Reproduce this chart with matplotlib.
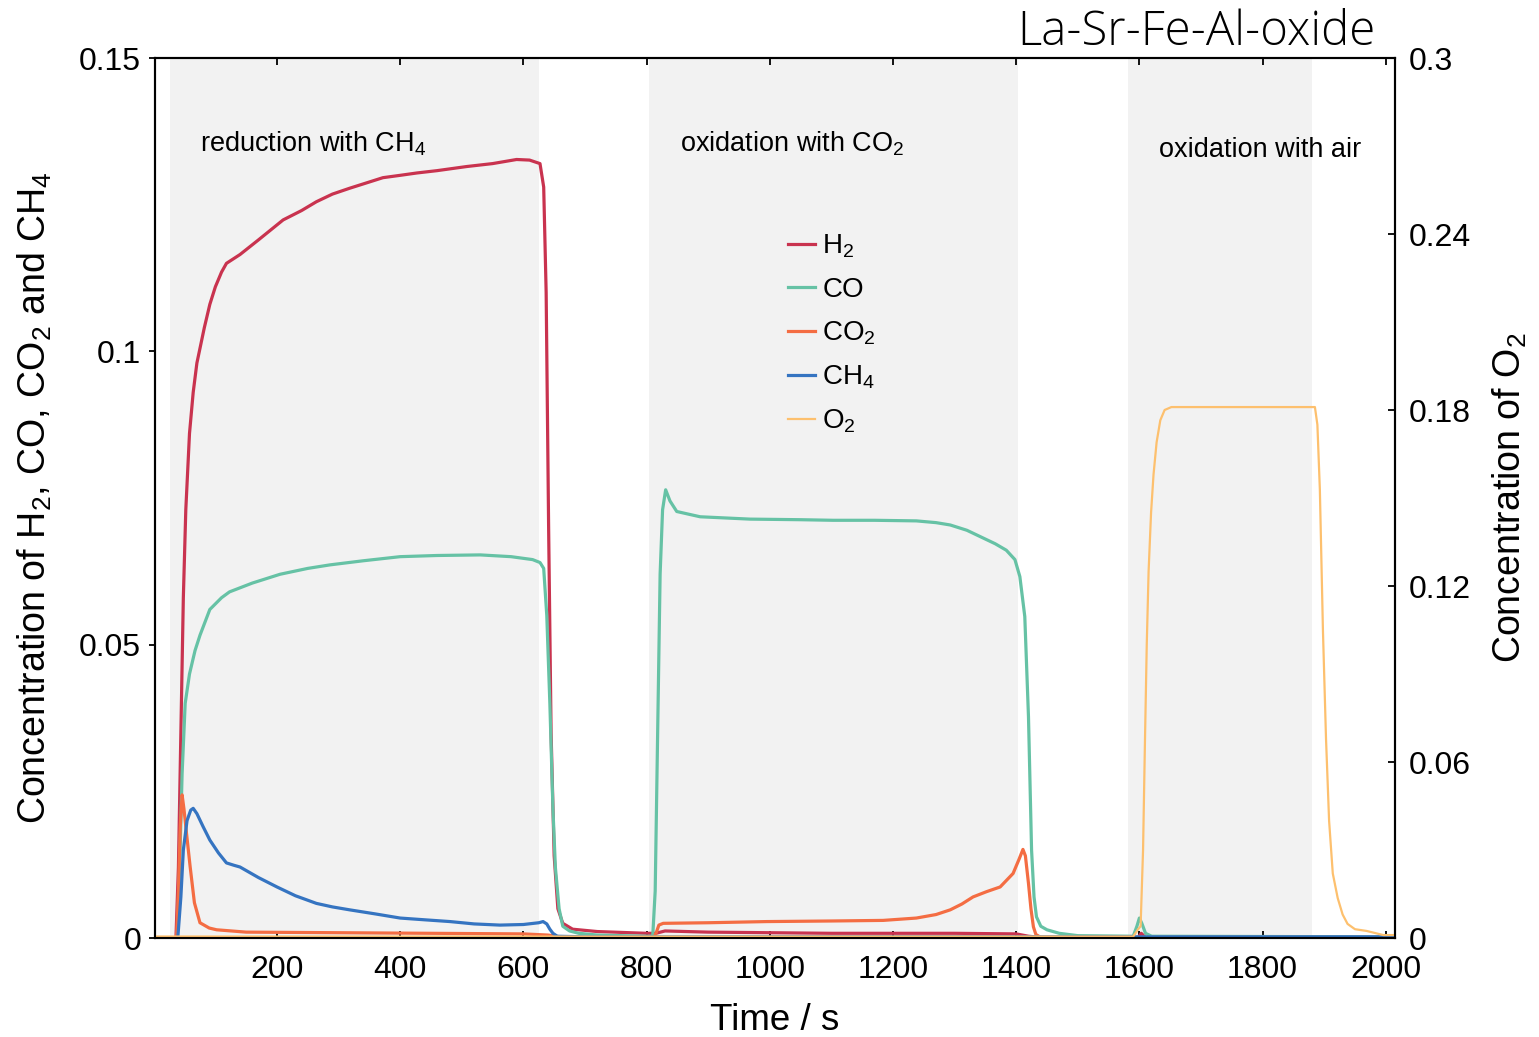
import matplotlib
matplotlib.use('Agg')
import numpy as np
import matplotlib.pyplot as plt
from matplotlib.ticker import FuncFormatter

plt.rcParams['font.family'] = ['Liberation Sans', 'DejaVu Sans']
plt.rcParams['mathtext.fontset'] = 'custom'
plt.rcParams['mathtext.rm'] = 'Liberation Sans'
plt.rcParams['mathtext.it'] = 'Liberation Sans'

# step windows (s)
steps = [(26, 625), (804, 1403), (1581, 1881)]
step_labels = ['reduction with CH$_4$', 'oxidation with CO$_2$', 'oxidation with air']
step_label_x = [75, 854, 1632]
step_label_y = [0.134, 0.134, 0.1332]

t_h2 = [0, 36, 40, 44, 48, 52, 58, 64, 70, 75, 82, 91, 100, 110, 118, 140, 170, 210,
        240, 264, 290, 318, 345, 372, 400, 427, 460, 508, 550, 589, 610, 627, 633, 637,
        641, 645, 650, 656, 664, 680, 720, 800, 815, 830, 900, 1100, 1300, 1400, 1420,
        1440, 1598, 1603, 1610, 2015]
h2 = [0, 0, 0.012, 0.035, 0.058, 0.073, 0.086, 0.093, 0.098, 0.1005, 0.104, 0.108, 0.111,
      0.1135, 0.115, 0.1165, 0.119, 0.1224, 0.124, 0.1255, 0.1268, 0.1278, 0.1287, 0.1296,
      0.1300, 0.1304, 0.1308, 0.1315, 0.1320, 0.1327, 0.1326, 0.1320, 0.128, 0.11, 0.07,
      0.035, 0.014, 0.005, 0.0025, 0.0015, 0.0011, 0.0008, 0.0008, 0.0012, 0.001, 0.0008,
      0.0008, 0.0007, 0.0003, 0.0001, 0.0001, 0.0008, 0.0001, 0.0001]

t_co = [0, 38, 42, 46, 51, 58, 67, 75, 91, 110, 123, 160, 205, 250, 286, 340, 400, 460,
        530, 580, 615, 627, 633, 638, 643, 648, 652, 658, 664, 675, 690, 720, 800, 810,
        814, 818, 822, 826, 831, 838, 849, 870, 887, 968, 1050, 1103, 1170, 1238, 1270,
        1293, 1320, 1346, 1366, 1384, 1398, 1406, 1414, 1420, 1425, 1429, 1433, 1440,
        1450, 1470, 1500, 1590, 1596, 1600, 1604, 1610, 1620, 2015]
co = [0, 0, 0.012, 0.028, 0.040, 0.045, 0.049, 0.0516, 0.056, 0.058, 0.059, 0.0605, 0.062,
      0.063, 0.0636, 0.0643, 0.065, 0.0652, 0.0653, 0.0650, 0.0645, 0.064, 0.063, 0.055,
      0.040, 0.022, 0.012, 0.005, 0.002, 0.0012, 0.0008, 0.0005, 0.0003, 0.0003, 0.008,
      0.035, 0.062, 0.073, 0.0764, 0.0745, 0.0727, 0.0722, 0.0718, 0.0714, 0.0713, 0.0712,
      0.0712, 0.0711, 0.0708, 0.0704, 0.0695, 0.0682, 0.0672, 0.0661, 0.0645, 0.0616,
      0.0548, 0.0377, 0.015, 0.007, 0.0036, 0.002, 0.0014, 0.0008, 0.0004, 0.0003, 0.002,
      0.0034, 0.0025, 0.0008, 0.0003, 0.0002]

t_co2 = [0, 37, 40, 43, 46, 49, 53, 59, 66, 75, 90, 102, 150, 300, 450, 600, 640, 660,
         700, 800, 812, 816, 820, 827, 900, 995, 1100, 1184, 1238, 1270, 1293, 1312, 1330,
         1352, 1374, 1395, 1405, 1411, 1415, 1420, 1424, 1428, 1432, 1440, 2015]
co2 = [0, 0, 0.008, 0.019, 0.0244, 0.022, 0.018, 0.0122, 0.006, 0.0026, 0.0017, 0.0014,
       0.001, 0.0009, 0.0008, 0.0007, 0.0005, 0.0002, 0.0001, 0.0001, 0.0001, 0.0010,
       0.0022, 0.0025, 0.0026, 0.0028, 0.0029, 0.0030, 0.0034, 0.0040, 0.0048, 0.0058,
       0.0070, 0.0079, 0.0087, 0.011, 0.0135, 0.0151, 0.0140, 0.0093, 0.0050, 0.0019,
       0.0006, 0.0001, 0.0001]

t_ch4 = [0, 39, 44, 48, 54, 60, 64, 70, 80, 91, 105, 118, 130, 140, 170, 200, 230, 264,
         290, 318, 360, 400, 440, 481, 520, 562, 600, 625, 632, 638, 643, 648, 655, 700,
         2015]
ch4 = [0, 0, 0.007, 0.015, 0.0200, 0.0218, 0.0221, 0.0212, 0.0190, 0.0167, 0.0145, 0.0128,
       0.0124, 0.0121, 0.0103, 0.0087, 0.0072, 0.0059, 0.0053, 0.0048, 0.0041, 0.0034,
       0.0031, 0.0028, 0.0024, 0.0022, 0.0023, 0.0026, 0.0028, 0.0024, 0.0015, 0.0008,
       0.0003, 0.0002, 0.0002]

t_o2 = [0, 1590, 1598, 1602, 1606, 1609, 1612, 1615, 1619, 1623, 1628, 1634, 1641, 1652,
        1700, 1800, 1885, 1889, 1893, 1898, 1903, 1908, 1914, 1922, 1930, 1938, 1950, 1969,
        1996, 2015]
o2 = [0.0005, 0.0005, 0.003, 0.004, 0.03, 0.066, 0.100, 0.125, 0.145, 0.158, 0.169, 0.1765,
      0.180, 0.181, 0.181, 0.181, 0.181, 0.175, 0.153, 0.105, 0.068, 0.040, 0.022, 0.0136,
      0.008, 0.0048, 0.003, 0.0024, 0.001, 0.001]

colors = {'H2': '#c9334f', 'CO': '#66c2a5', 'CO2': '#f46d43', 'CH4': '#3574c1', 'O2': '#fdc06e'}

fig = plt.figure(figsize=(15.39, 10.37), dpi=100)
ax = fig.add_axes([155 / 1539, 99 / 1037, 1240 / 1539, 880 / 1037])
ax2 = ax.twinx()

for (a, b) in steps:
    ax.axvspan(a, b, color='#f2f2f2', lw=0, zorder=0)

lines = []
lines += ax.plot(t_h2, h2, color=colors['H2'], lw=2.3, label='H$_2$')
lines += ax.plot(t_co, co, color=colors['CO'], lw=2.3, label='CO')
lines += ax.plot(t_co2, co2, color=colors['CO2'], lw=2.3, label='CO$_2$')
lines += ax.plot(t_ch4, ch4, color=colors['CH4'], lw=2.3, label='CH$_4$')
lines += ax2.plot(t_o2, o2, color=colors['O2'], lw=1.6, label='O$_2$')

for lab, x, y in zip(step_labels, step_label_x, step_label_y):
    ax.text(x, y, lab, fontsize=19.5, va='baseline', ha='left')

ax.set_xlim(2, 2015)
ax.set_ylim(0, 0.15)
ax2.set_ylim(0, 0.3)
ax.set_xticks(np.arange(200, 2001, 200))
ax.set_yticks([0, 0.05, 0.1, 0.15])
ax2.set_yticks([0, 0.06, 0.12, 0.18, 0.24, 0.3])
fmt = FuncFormatter(lambda v, p: '%g' % v)
ax.yaxis.set_major_formatter(fmt)
ax2.yaxis.set_major_formatter(fmt)

ax.tick_params(axis='x', direction='in', top=True, length=5, width=1.3, labelsize=23, pad=12)
ax.tick_params(axis='y', direction='out', length=4, width=1.3, labelsize=23, pad=6)
ax2.tick_params(axis='y', direction='in', length=5, width=1.3, labelsize=23, pad=10)
for a in (ax, ax2):
    for s in a.spines.values():
        s.set_linewidth(1.5)

ax.set_xlabel('Time / s', fontsize=26.5, labelpad=13)
ax.set_ylabel('Concentration of H$_2$, CO, CO$_2$ and CH$_4$', fontsize=27, labelpad=18)
ax2.set_ylabel('Concentration of O$_2$', fontsize=27, labelpad=14)

ax.legend(handles=lines, loc='upper left', bbox_to_anchor=(0.49, 0.83), frameon=False,
          fontsize=20, handlelength=1.0, handletextpad=0.25, labelspacing=0.6)

fig.text(1375 / 1539, 1 - 45 / 1037, 'La-Sr-Fe-Al-oxide', ha='right', va='baseline',
         fontsize=34, family='Open Sans', fontweight='light')

fig.savefig('out.png', dpi=100)
